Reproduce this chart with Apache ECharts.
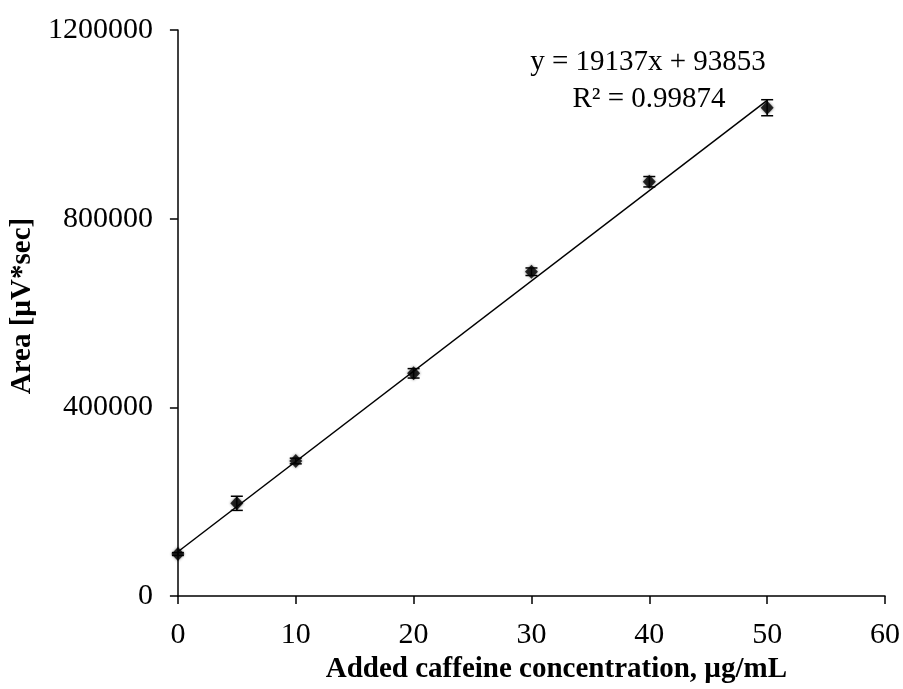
<!DOCTYPE html>
<html>
<head>
<meta charset="utf-8">
<script src="https://cdn.jsdelivr.net/npm/echarts@6/dist/echarts.min.js"></script>
<style>
  html, body { margin: 0; padding: 0; background: #fff; }
  #chart { width: 903px; height: 689px; }
</style>
</head>
<body>
<div id="chart"></div>
<script>
// Added caffeine concentration (µg/mL)
const concentrations = [0, 5, 10, 20, 30, 40, 50];
// Mean peak area (µV*sec)
const areas = [89000, 196500, 286200, 472100, 687500, 878300, 1035200];
// Error bar half-widths (µV*sec)
const errors = [3000, 15000, 6000, 10000, 8000, 11000, 17000];
// Linear fit shown on the chart
const fitSlope = 19137;
const fitIntercept = 93853;
const fitR2 = '0.99874';
const fitRange = [0, 50];

const xTicks = [0, 10, 20, 30, 40, 50, 60];
const yTicks = [0, 400000, 800000, 1200000];

const FONT = '"Liberation Serif", "Times New Roman", serif';
const FS = 29;
const TICK_FS = 30;

const points = concentrations.map((c, i) => [c, areas[i]]);
const errData = concentrations.map((c, i) => [c, areas[i] - errors[i], areas[i] + errors[i]]);
const fitLine = fitRange.map(x => [x, fitSlope * x + fitIntercept]);

const chart = echarts.init(document.getElementById('chart'), null, { renderer: 'canvas' });

chart.setOption({
  animation: false,
  backgroundColor: '#ffffff',
  grid: { left: 175, right: 17, top: 30, bottom: 93, containLabel: false },
  xAxis: {
    type: 'value',
    min: xTicks[0],
    max: xTicks[xTicks.length - 1],
    interval: 10,
    name: 'Added caffeine concentration, µg/mL',
    nameLocation: 'middle',
    nameGap: 53,
    nameTextStyle: { fontFamily: FONT, fontWeight: 'bold', fontSize: FS, color: '#000', padding: [0, 0, 0, 50] },
    axisLine: { onZero: false, lineStyle: { color: '#000', width: 1.5 } },
    axisTick: { show: true, inside: false, length: 8, lineStyle: { color: '#000', width: 1.5 } },
    axisLabel: { fontFamily: FONT, fontSize: TICK_FS, color: '#000', margin: 24, formatter: v => String(v) },
    splitLine: { show: false }
  },
  yAxis: {
    type: 'value',
    min: yTicks[0],
    max: yTicks[yTicks.length - 1],
    interval: 400000,
    name: 'Area [µV*sec]',
    nameLocation: 'middle',
    nameGap: 140,
    nameTextStyle: { fontFamily: FONT, fontWeight: 'bold', fontSize: FS, color: '#000', padding: [0, 0, 0, 14] },
    axisLine: { show: true, onZero: false, lineStyle: { color: '#000', width: 1.5 } },
    axisTick: { show: true, inside: false, length: 8, lineStyle: { color: '#000', width: 1.5 } },
    axisLabel: { fontFamily: FONT, fontSize: TICK_FS, color: '#000', margin: 25, formatter: v => String(v) },
    splitLine: { show: false }
  },
  series: [
    {
      name: 'Linear fit',
      type: 'line',
      data: fitLine,
      symbol: 'none',
      lineStyle: { color: '#000', width: 1.5 },
      z: 2
    },
    {
      name: 'Error',
      type: 'custom',
      data: errData,
      renderItem: function (params, api) {
        const x = api.value(0);
        const lo = api.coord([x, api.value(1)]);
        const hi = api.coord([x, api.value(2)]);
        const cap = 6;
        const style = { stroke: '#000', lineWidth: 1.5 };
        return {
          type: 'group',
          children: [
            { type: 'line', shape: { x1: lo[0], y1: lo[1], x2: hi[0], y2: hi[1] }, style },
            { type: 'line', shape: { x1: lo[0] - cap, y1: lo[1], x2: lo[0] + cap, y2: lo[1] }, style },
            { type: 'line', shape: { x1: hi[0] - cap, y1: hi[1], x2: hi[0] + cap, y2: hi[1] }, style }
          ]
        };
      },
      z: 3
    },
    {
      name: 'Area',
      type: 'scatter',
      data: points,
      symbol: 'diamond',
      symbolSize: [13, 14],
      itemStyle: { color: '#000', shadowBlur: 3, shadowColor: 'rgba(0,0,0,0.6)' },
      z: 4
    }
  ],
  graphic: [
    {
      type: 'text',
      x: 648,
      y: 62,
      style: {
        text: 'y = ' + fitSlope + 'x + ' + fitIntercept,
        fontFamily: FONT,
        fontSize: FS,
        fill: '#000',
        textAlign: 'center',
        textVerticalAlign: 'middle'
      }
    },
    {
      type: 'text',
      x: 649,
      y: 99,
      style: {
        text: 'R² = ' + fitR2,
        fontFamily: FONT,
        fontSize: FS,
        fill: '#000',
        textAlign: 'center',
        textVerticalAlign: 'middle'
      }
    }
  ]
});
</script>
</body>
</html>
